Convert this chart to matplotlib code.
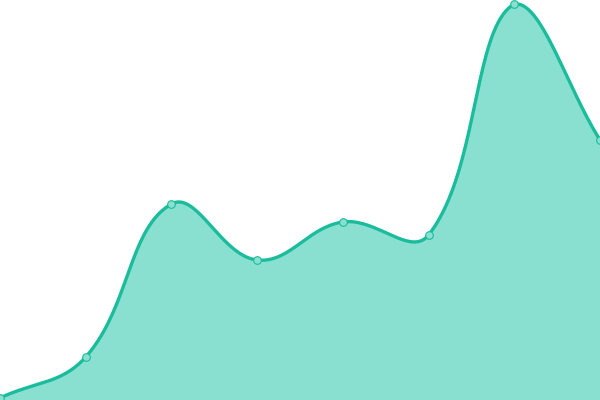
import numpy as np
from matplotlib import pyplot as plt

# values (pixel height above the bottom edge)
labels = ["p0", "p1", "p2", "p3", "p4", "p5", "p6", "p7"]
values = [2, 43, 196, 140, 178, 165, 396, 260]

line_color = "#1abc9c"
fill_color = "#8ae0d0"
W, H = 600, 400


def spline_curve(xs, ys, tension=0.4, steps=40):
    """Distance weighted cardinal spline (bezier segments), like chart libs do."""
    pts = np.column_stack([xs, ys]).astype(float)
    n = len(pts)
    ctrl_prev, ctrl_next = [], []
    for i in range(n):
        prev = pts[max(i - 1, 0)]
        cur = pts[i]
        nxt = pts[min(i + 1, n - 1)]
        d01 = np.hypot(*(cur - prev))
        d12 = np.hypot(*(nxt - cur))
        s01 = d01 / (d01 + d12) if d01 + d12 else 0
        s12 = d12 / (d01 + d12) if d01 + d12 else 0
        cp = cur - tension * s01 * (nxt - prev)
        cn = cur + tension * s12 * (nxt - prev)
        cp[1] = np.clip(cp[1], 0, H)
        cn[1] = np.clip(cn[1], 0, H)
        ctrl_prev.append(cp)
        ctrl_next.append(cn)
    out = []
    t = np.linspace(0, 1, steps)[:, None]
    for i in range(n - 1):
        p1, c1, c2, p2 = pts[i], ctrl_next[i], ctrl_prev[i + 1], pts[i + 1]
        seg = ((1 - t) ** 3) * p1 + 3 * ((1 - t) ** 2) * t * c1 \
            + 3 * (1 - t) * t ** 2 * c2 + t ** 3 * p2
        out.append(seg if i == 0 else seg[1:])
    curve = np.vstack(out)
    return curve[:, 0], curve[:, 1]


x = np.arange(len(values)) * W / (len(values) - 1)
cx, cy = spline_curve(x, values)

fig = plt.figure(figsize=(6, 4), dpi=100)
ax = fig.add_axes([0, 0, 1, 1])
ax.fill_between(cx, cy, 0, color=fill_color, lw=0)
ax.plot(cx, cy, color=line_color, lw=2.4, solid_capstyle="round")
ax.plot(x, values, "o", ms=5.5, mfc=fill_color, mec=line_color, mew=0.8)
ax.set_xlim(0, W)
ax.set_ylim(0, H)
ax.axis("off")
fig.savefig("out.png", dpi=100)
